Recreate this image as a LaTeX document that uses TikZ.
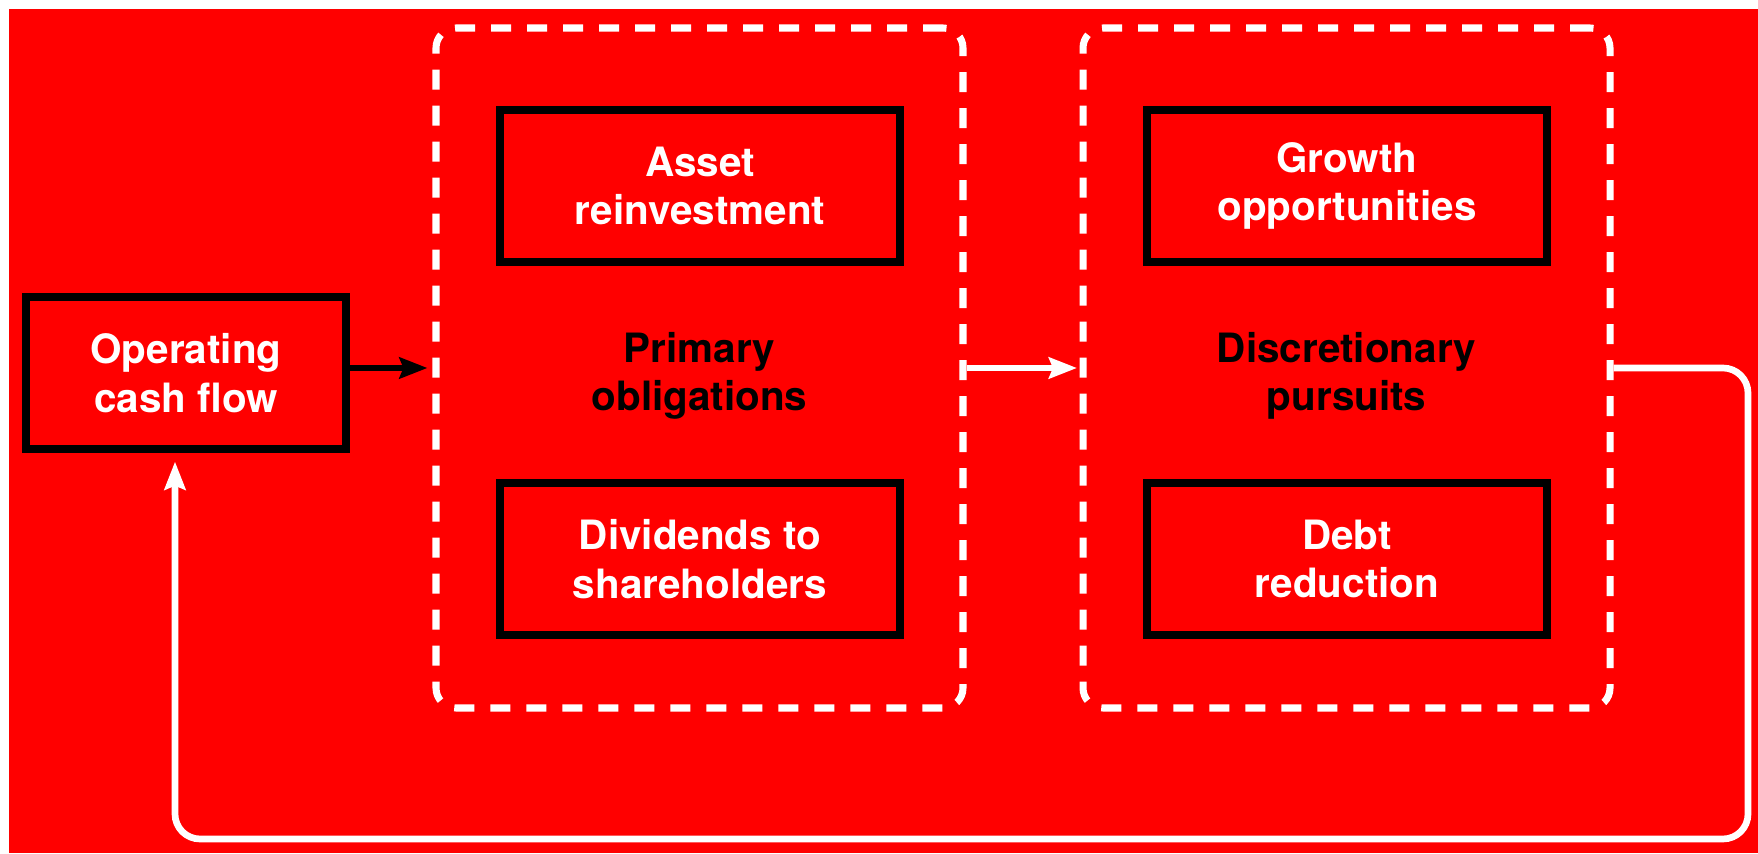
\documentclass[tikz,border=0pt]{standalone}
\usepackage{fontspec}
\setmainfont{TeX Gyre Heros}
\usetikzlibrary{arrows.meta}

\definecolor{sheetred}{RGB}{255,0,0}
\tikzset{
    cashbox/.style={draw=black, line width=4.2pt, minimum width=8cm, minimum height=3.04cm,
        align=center, text=white, font=\bfseries\fontsize{23}{27.5}\selectfont},
    usebox/.style={draw=white, line width=4pt, dash pattern=on 0.4cm off 0.32cm, rounded corners=0.4cm,
        minimum width=10.54cm, minimum height=13.6cm},
    usetext/.style={align=center, text=black, font=\bfseries\fontsize{23}{27.5}\selectfont},
    flow/.style={line width=3.8pt, -{Stealth[length=0.56cm, width=0.42cm, inset=0.08cm]}}
}

\begin{document}
\begin{tikzpicture}
            \useasboundingbox (0,0) rectangle (35.16,17.06);
            \fill[sheetred] (0.18,0) rectangle (35.16,16.88);
            % the two dashed groups
            \node[usebox] (primary) at (13.99,9.7) {};
            \node[usebox] (discret) at (26.93,9.7) {};
            \node[usetext] (primtext) at ([yshift=-0.16cm]primary.center) {Primary\\obligations};
            \node[usetext] (disctext) at ([yshift=-0.16cm]discret.center) {Discretionary\\pursuits};
            % boxes inside and the source on the left
            \node[cashbox, minimum width=6.4cm] (ocf) at (3.72,9.6) {Operating\\cash flow};
            \node[cashbox] (asset) at (14,13.34) {Asset\\reinvestment};
            \node[cashbox] (divid) at (14,5.88) {Dividends to\\shareholders};
            \node[cashbox] (growth) at (26.94,13.34) {Growth\\opportunities};
            \node[cashbox] (debt) at (26.94,5.88) {Debt\\reduction};
            \coordinate (loop) at (34.96,0.28);
            \draw[flow, black, shorten >=0.1cm] (ocf.east |- primary.west) -- (primary.west);
            \draw[flow, white, shorten >=0.05cm] (primary.east) -- (discret.west);
            \draw[flow, white, rounded corners=0.5cm, shorten >=0.18cm] (discret.east) -| (loop) -| ([xshift=-0.22cm]ocf.south); % back to the start
        \end{tikzpicture}
\end{document}
